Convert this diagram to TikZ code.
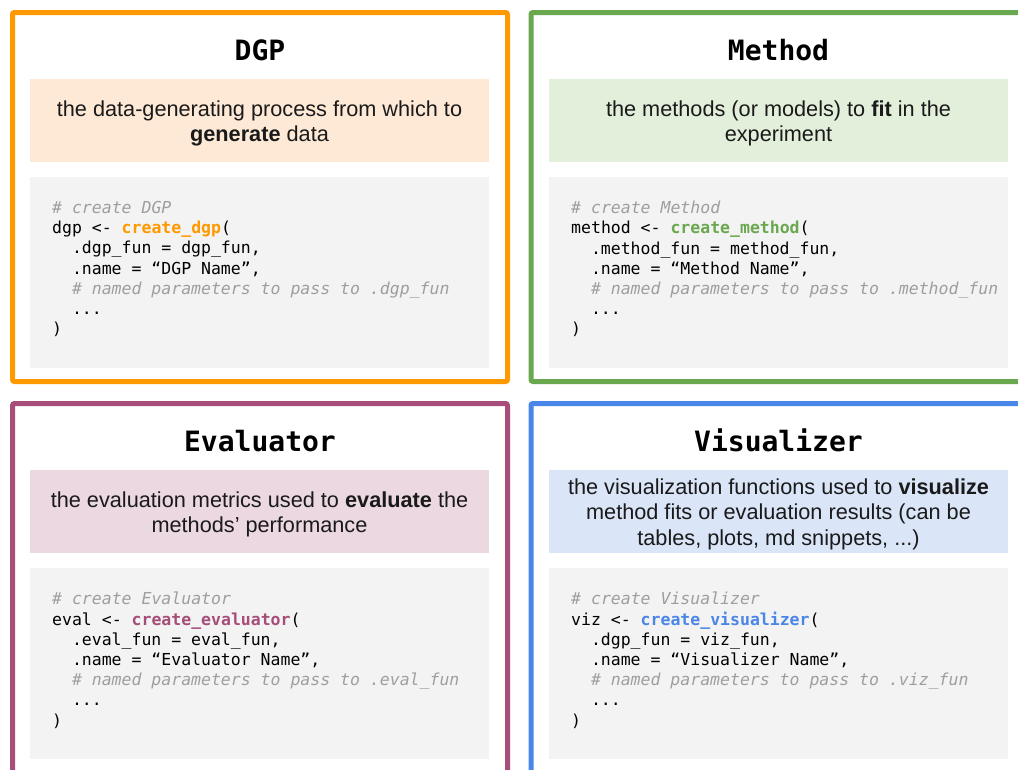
\documentclass[tikz,border=0pt]{standalone}
\usepackage{fontspec}
\setmainfont{Liberation Sans}
\newfontfamily\codefont{DejaVu Sans Mono}
\usepackage{tikz}
\usetikzlibrary{positioning}

\definecolor{dgpcol}{HTML}{FF9900}
\definecolor{methcol}{HTML}{6AA84F}
\definecolor{evalcol}{HTML}{A64D79}
\definecolor{vizcol}{HTML}{4A86E8}
\definecolor{dgpfill}{HTML}{FDE9D6}
\definecolor{methfill}{HTML}{E2EFDA}
\definecolor{evalfill}{HTML}{EBD8E1}
\definecolor{vizfill}{HTML}{DAE5F8}
\definecolor{codegray}{HTML}{F3F3F3}
\definecolor{cmtgray}{HTML}{9E9E9E}
\definecolor{txt}{HTML}{1A1A1A}

\newcommand{\cmt}[1]{{\color{cmtgray}\itshape #1}}
\newcommand{\ind}{\hspace*{1.2em}}

\tikzset{
  panel/.style={draw=#1,line width=5pt,rounded corners=2pt,minimum width=495pt,minimum height=369pt},
  paneltitle/.style={anchor=base,inner sep=0pt,font=\codefont\bfseries\fontsize{28}{32}\selectfont},
  descbox/.style={fill=#1,minimum width=459pt,minimum height=83pt},
  desctext/.style={align=center,text=txt,font=\fontsize{21.7}{25.5}\selectfont},
  codebox/.style={fill=codegray,minimum width=459pt,minimum height=191pt},
  codetext/.style={anchor=north west,inner sep=0pt,align=left,font=\codefont\fontsize{16.5}{20.2}\selectfont}
}

\begin{document}
\begin{tikzpicture}[x=1pt,y=-1pt]
  \useasboundingbox (0,0) rectangle (1018,769);
  % frames
  \node (dgp) [panel=dgpcol] at (260,197) {};
  \node (meth) [panel=methcol] at (778.5,197) {};
  \node (eval) [panel=evalcol] at (260,588) {};
  \node (viz) [panel=vizcol] at (778.5,588) {};
  % titles
  \node (dgpT) [paneltitle] at (260,60) {DGP};
  \node (methT) [paneltitle] at (778.5,60) {Method};
  \node (evalT) [paneltitle] at (260,451) {Evaluator};
  \node (vizT) [paneltitle] at (778.5,451) {Visualizer};
  % descriptions
  \node (dgpD) [descbox=dgpfill] at (259.5,120.5) {};
  \node (methD) [descbox=methfill] at (778.5,120.5) {};
  \node (evalD) [descbox=evalfill] at (259.5,511.5) {};
  \node (vizD) [descbox=vizfill] at (778.5,511.5) {};
  \node (dgpDt) [desctext] at (259.5,123.5) {the data-generating process from which to\\\textbf{generate} data};
  \node (methDt) [desctext] at (778.5,123.5) {the methods (or models) to \textbf{fit} in the\\experiment};
  \node (evalDt) [desctext] at (259.5,514.5) {the evaluation metrics used to \textbf{evaluate} the\\methods’ performance};
  \node (vizDt) [desctext] at (778.5,514) {the visualization functions used to \textbf{visualize}\\method fits or evaluation results (can be\\tables, plots, md snippets, ...)};
  % code
  \node (dgpC) [codebox] at (259.5,272.5) {};
  \node (methC) [codebox] at (778.5,272.5) {};
  \node (evalC) [codebox] at (259.5,663.5) {};
  \node (vizC) [codebox] at (778.5,663.5) {};
  \node (dgpcode) [codetext] at (52,201) {\cmt{\# create DGP}\\
    dgp <- {\color{dgpcol}\bfseries create\_dgp}(\\
    \ind .dgp\_fun = dgp\_fun,\\
    \ind .name = “DGP Name”,\\
    \ind\cmt{\# named parameters to pass to .dgp\_fun}\\
    \ind ...\\
    )};
  \node (methcode) [codetext] at (571,201) {\cmt{\# create Method}\\
    method <- {\color{methcol}\bfseries create\_method}(\\
    \ind .method\_fun = method\_fun,\\
    \ind .name = “Method Name”,\\
    \ind\cmt{\# named parameters to pass to .method\_fun}\\
    \ind ...\\
    )};
  \node (evalcode) [codetext] at (52,592) {\cmt{\# create Evaluator}\\
    eval <- {\color{evalcol}\bfseries create\_evaluator}(\\
    \ind .eval\_fun = eval\_fun,\\
    \ind .name = “Evaluator Name”,\\
    \ind\cmt{\# named parameters to pass to .eval\_fun}\\
    \ind ...\\
    )};
  \node (vizcode) [codetext] at (571,592) {\cmt{\# create Visualizer}\\
    viz <- {\color{vizcol}\bfseries create\_visualizer}(\\
    \ind .dgp\_fun = viz\_fun,\\
    \ind .name = “Visualizer Name”,\\
    \ind\cmt{\# named parameters to pass to .viz\_fun}\\
    \ind ...\\
    )};
\end{tikzpicture}
\end{document}
